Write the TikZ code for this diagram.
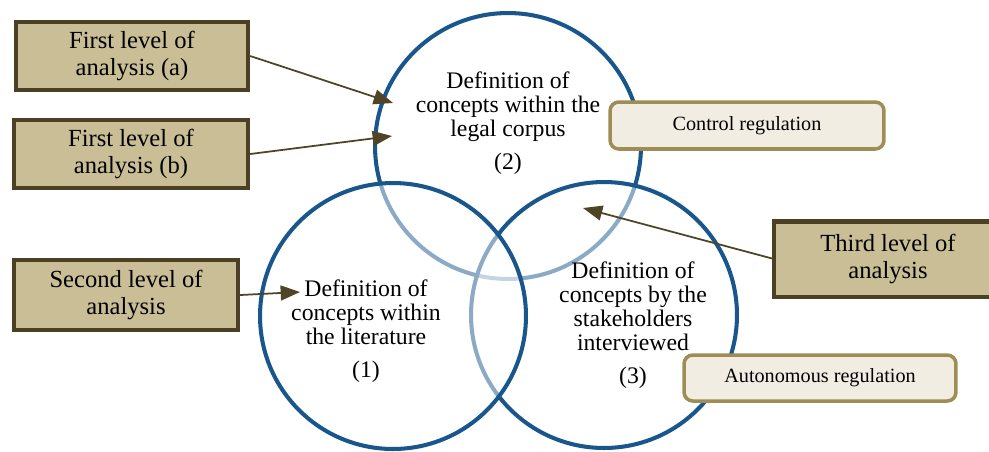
\documentclass[tikz,border=0pt]{standalone}
\usepackage{fontspec}
\setmainfont{Liberation Serif}
\usetikzlibrary{arrows.meta}

\definecolor{circblue}{RGB}{24,86,140}
\definecolor{levelfill}{RGB}{201,190,150}
\definecolor{leveledge}{RGB}{75,64,36}
\definecolor{regfill}{RGB}{241,237,227}
\definecolor{regedge}{RGB}{158,141,85}
\definecolor{arrowcol}{RGB}{80,68,38}

\tikzset{
  setcircle/.style={circle, draw=circblue, line width=2.3pt, fill=white, fill opacity=0.5, minimum size=5.32cm, inner sep=0pt},
  settext/.style={align=center, font=\fontsize{13.5}{13.6}\selectfont},
  levelbox/.style={draw=leveledge, fill=levelfill, line width=2.5pt, align=center, inner sep=0pt, font=\fontsize{14}{15.3}\selectfont},
  regbox/.style={draw=regedge, fill=regfill, line width=2pt, rounded corners=5pt, inner sep=0pt, font=\fontsize{11.5}{13}\selectfont},
  levelarrow/.style={draw=arrowcol, line width=1pt, -{Triangle[length=11pt,width=8.5pt]}}
}

\begin{document}
\begin{tikzpicture}[x=0.02cm, y=-0.02cm]
                \useasboundingbox (0,0) rectangle (989,451);

                % Circles (2), (3), (1), back to front
                \node[setcircle] (c2) at (508,146) {};
                \node[setcircle] (c3) at (604,315) {};
                \node[setcircle] (c1) at (393,316) {};

                % Circle texts
                \node[settext] (t2) at (508,123) {Definition of\\concepts within the\\legal corpus\\[5pt](2)};
                \node[settext] (t1) at (366,331) {Definition of\\concepts within\\the literature\\[5pt](1)};
                \node[settext] (t3) at (633,325) {Definition of\\concepts by the\\stakeholders\\interviewed\\[5pt](3)};

                % Level boxes (Tan)
                \node[levelbox, minimum width=4.64cm, minimum height=1.36cm] (ba) at (132,56) {First level of\\analysis (a)};
                \node[levelbox, minimum width=4.68cm, minimum height=1.36cm] (bb) at (131,154) {First level of\\analysis (b)};
                \node[levelbox, minimum width=4.48cm, minimum height=1.40cm] (bs) at (126,295) {Second level of\\analysis};

                % Third box runs off the right edge
                \node[levelbox, draw=none, minimum width=4.6cm, minimum height=1.42cm, anchor=west] (bt) at (774,259) {};
                \draw[leveledge, line width=2.5pt] (bt.north east) -- (bt.north west) -- (bt.south west) -- (bt.south east);
                \node[font=\fontsize{14}{15.3}\selectfont, align=center] (btx) at (888,259) {Third level of\\analysis};

                % Regulation boxes (Cream)
                \node[regbox, minimum width=5.48cm, minimum height=0.94cm] (rc) at (747,125.5) {Control regulation};
                \node[regbox, minimum width=5.44cm, minimum height=0.92cm] (ra) at (820,378) {Autonomous regulation};

                % Arrow ends
                \coordinate (pa) at (393,103);
                \coordinate (pb) at (392,136);
                \coordinate (ps) at (300,292);
                \coordinate (pt) at (583,208);

                % Arrows
                \draw[levelarrow] (ba.east) -- (pa);
                \draw[levelarrow] (bb.east) -- (pb);
                \draw[levelarrow] (bs.east) -- (ps);
                \draw[levelarrow] (bt.west) -- (pt);
            \end{tikzpicture}
\end{document}
